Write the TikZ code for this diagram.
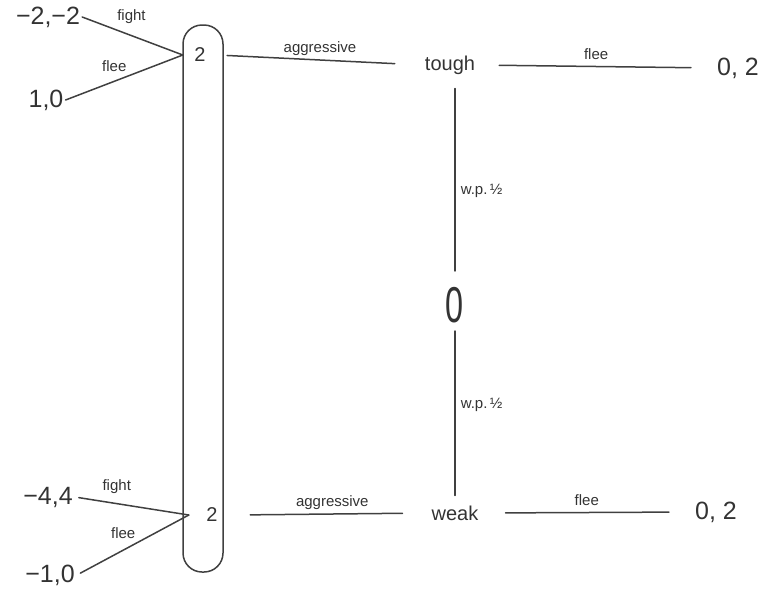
\documentclass[tikz,border=0pt]{standalone}
\usepackage{fontspec}
\setmainfont{Liberation Sans}
\begin{document}
\begin{tikzpicture}[x=1pt,y=-1pt,
  edge/.style={draw=black!75,line width=1.5pt,line cap=round},
  pay/.style={font=\fontsize{25}{27}\selectfont,text=black!80,inner sep=2pt},
  act/.style={font=\fontsize{20}{22}\selectfont,text=black!80,inner sep=2pt},
  lab/.style={font=\fontsize{15}{16}\selectfont,text=black!80,inner sep=1pt}]
\useasboundingbox (0,0) rectangle (762,592);
% payoffs
\node[pay] (a1) at (48,17) {−2,−2};
\node[pay] (a2) at (46,100) {1,0};
\node[pay] (a3) at (48,497) {−4,4};
\node[pay] (a4) at (50,575) {−1,0};
\node[pay] (r1) at (738,68) {0, 2};
\node[pay] (r2) at (716,512) {0, 2};
% player 2 nodes and information set
\node[act,minimum width=34pt] (p1) at (200,55) {2};
\node[act,minimum width=46pt] (p2) at (212,515) {2};
\node[draw=black!75,line width=1.5pt,rounded corners=19pt,minimum width=40pt,minimum height=547pt] (info) at (203,298.5) {};
% player 1 types and nature
\node[act] (t) at (450,65) {tough};
\node[act] (w) at (455,513) {weak};
\node[font=\fontsize{36}{38}\selectfont,text=black!80,inner sep=2pt] (c) at (455,305) {\scalebox{0.9}[1.4]{0}};
% connectors
\draw[edge] (a1.east) -- node[lab,above=9pt,xshift=4pt,pos=0.45] {fight} (p1.west);
\draw[edge] (a2.east) -- node[lab,above=6pt,xshift=-4pt,pos=0.45] {flee} (p1.west);
\draw[edge,shorten <=4pt] (a3.east) -- node[lab,above=8pt,xshift=2pt,pos=0.35] {fight} (p2.west);
\draw[edge,shorten <=4pt] (a4.east) -- node[lab,above=8pt,xshift=-4pt,pos=0.45] {flee} (p2.west);
\draw[edge,shorten <=10pt,shorten >=28pt] (p1.east) -- node[lab,above=3pt] {aggressive} (t.west);
\draw[edge,shorten <=15pt,shorten >=27pt] (p2.east) -- node[lab,above=3pt] {aggressive} (w.west);
\draw[edge,shorten <=22pt,shorten >=24pt] (t.east) -- node[lab,above=5pt] {flee} (r1.west);
\draw[edge,shorten <=25pt,shorten >=24pt] (w.east) -- node[lab,above=5pt] {flee} (r2.west);
\draw[edge,shorten <=14pt,shorten >=12pt] (c.north) -- node[lab,right=4pt,pos=0.45] {w.p.\,½} (c.north |- t.south);
\draw[edge,shorten <=6pt,shorten >=8pt] (c.south) -- node[lab,right=4pt,pos=0.45] {w.p.\,½} (c.south |- w.north);
\end{tikzpicture}
\end{document}
